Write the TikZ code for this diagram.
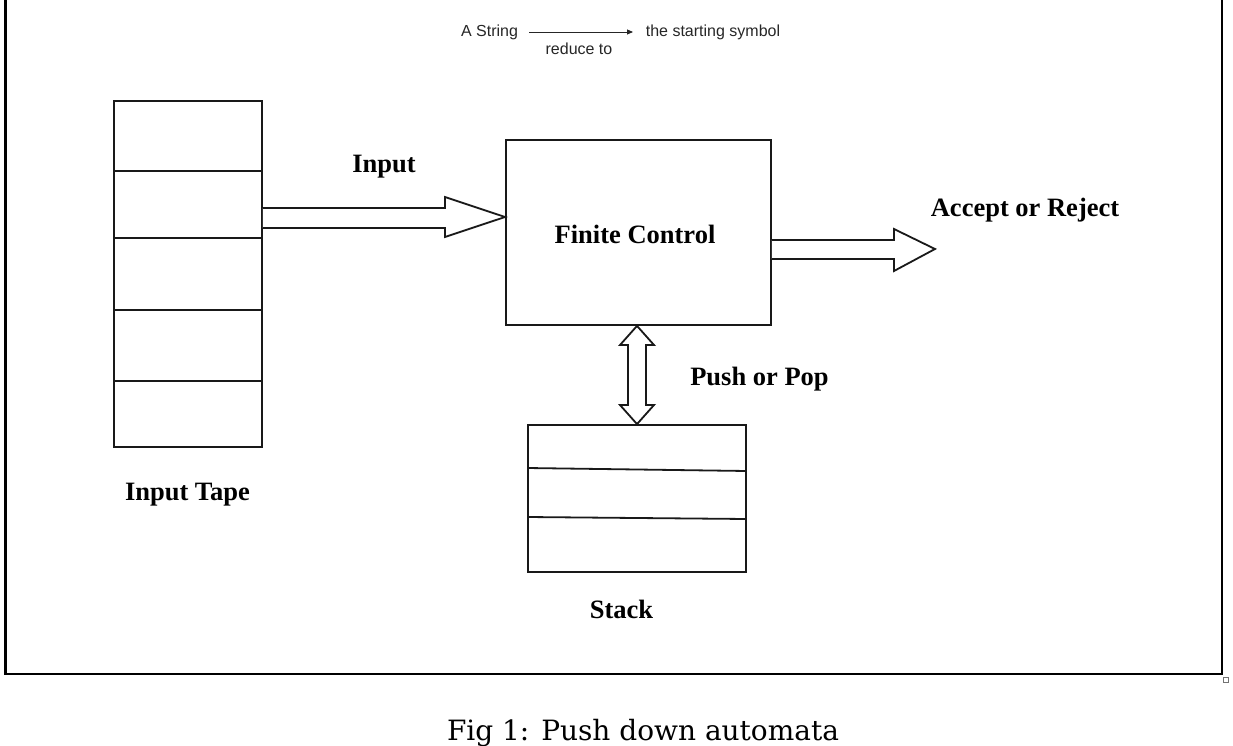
\documentclass[tikz,border=0pt]{standalone}
\usepackage{fontspec}
\setmainfont{Liberation Serif}
\newfontfamily\topfont{Liberation Sans}
\newfontfamily\capfont{DejaVu Serif}
\usetikzlibrary{calc,arrows.meta}
\begin{document}
\begin{tikzpicture}[x=1pt,y=-1pt,
  blockarrow/.style={draw=black!90,line width=1.8pt,fill=white},
  box/.style={draw=black!90,line width=1.8pt,rectangle,inner sep=0pt},
  lbl/.style={font=\fontsize{26.5}{30}\selectfont\bfseries,anchor=base,inner sep=0pt},
  small/.style={font=\fontsize{16}{18}\selectfont\topfont,anchor=base,inner sep=0pt,text=black!85},
  divider/.style={draw=black!90,line width=1.8pt}]
\useasboundingbox (0,0) rectangle (1233,746);
% outer frame
\draw[line width=2.5pt] (5.5,-5) -- (5.5,674) -- (1222,674) -- (1222,-5);
\draw[black!55,line width=0.8pt] (1223,677) rectangle (1228,682);
% top note
\node[small] (astr) at (489.5,37) {A String};
\node[small] (start) at (713,37) {the starting symbol};
\node[small] (red) at (579,55) {reduce to};
\coordinate (ra) at (529,32);
\coordinate (rb) at (633,32);
\draw[black!85,line width=0.9pt,-{Triangle[length=6pt,width=5pt]}] (ra) -- (rb);
% input tape
\node[box,minimum width=148pt,minimum height=346pt] (tape) at (188,274) {};
\foreach \yy in {171,238,310,381}{
  \draw[divider] (tape.west |- 0,\yy) -- (tape.east |- 0,\yy);
}
\node[lbl] (tapelbl) at (187.5,500) {Input Tape};
% finite control
\node[box,minimum width=265pt,minimum height=185pt] (fc) at (638.5,232.5) {};
\node[lbl] (fclbl) at (635,243) {Finite Control};
% stack
\node[box,minimum width=218pt,minimum height=147pt] (stack) at (637,498.5) {};
\draw[divider] (stack.west |- 0,468) -- (stack.east |- 0,471);
\draw[divider] (stack.west |- 0,517) -- (stack.east |- 0,519);
\node[lbl] (stacklbl) at (621.5,618) {Stack};
% input arrow
\draw[blockarrow] (tape.east |- 0,208) -- (445,208) -- (445,197) -- (fc.west |- 0,217)
  -- (445,237) -- (445,228) -- (tape.east |- 0,228);
\node[lbl] (inlbl) at (384,172) {Input};
% output arrow
\draw[blockarrow] (fc.east |- 0,240) -- (894,240) -- (894,229) -- (935,249)
  -- (894,271) -- (894,259) -- (fc.east |- 0,259);
\node[lbl] (acclbl) at (1025,216) {Accept or Reject};
% push/pop double arrow
\draw[blockarrow] (stack.north |- fc.south) -- (654,345) -- (646,345) -- (646,405) -- (654,405)
  -- (stack.north) -- (620,405) -- (628,405) -- (628,345) -- (620,345) -- cycle;
\node[lbl] (pplbl) at (759.5,385) {Push or Pop};
% caption
\node[anchor=base,inner sep=0pt] (cap) at (643,740)
  {\resizebox{392pt}{!}{\capfont\fontsize{27}{30}\selectfont Fig 1: Push down automata}};
\end{tikzpicture}
\end{document}
